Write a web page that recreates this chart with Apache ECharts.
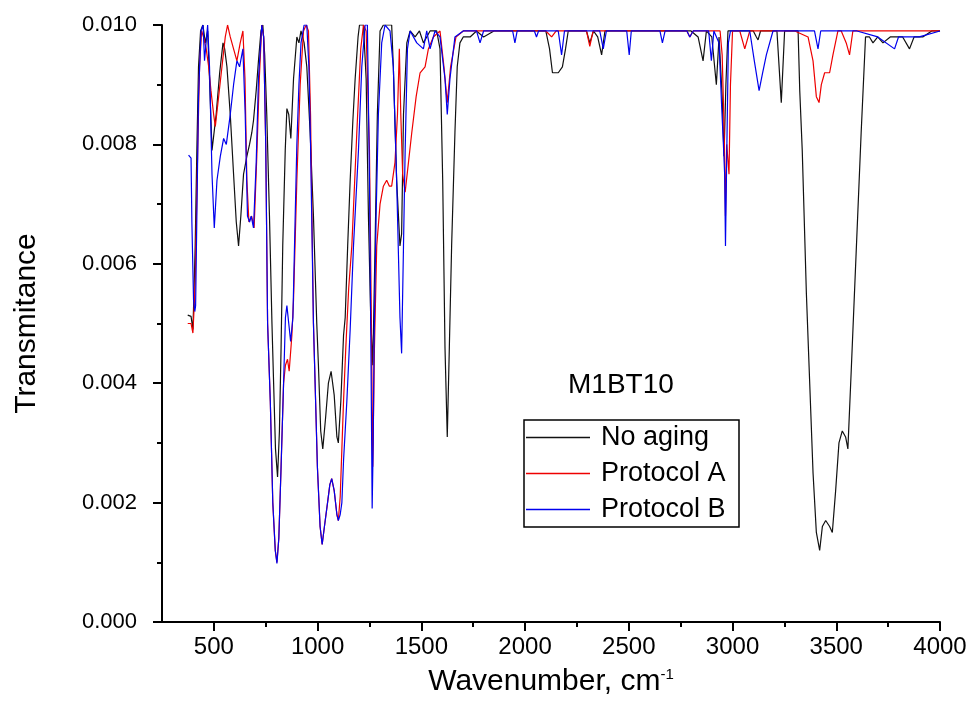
<!DOCTYPE html>
<html>
<head>
<meta charset="utf-8">
<script src="https://cdn.jsdelivr.net/npm/echarts@6/dist/echarts.min.js"></script>
<style>
html,body{margin:0;padding:0;background:#fff;}
#chart{width:971px;height:702px;}
</style>
</head>
<body>
<div id="chart"></div>
<script>
// ---- data (wavenumber, transmittance) ----
const seriesNames = ['No aging', 'Protocol A', 'Protocol B'];

const noAgingWn = [374,390,399,404,410,418,426,436,447,459,470,479,491,499,511,528,544,552,563,579,595,608,619,630,643,659,672,683,691,704,715,727,736,745,755,768,780,788,797,807,816,824,832,844,852,861,871,884,900,910,920,935,948,964,980,996,1004,1015,1025,1038,1052,1065,1080,1093,1100,1112,1125,1133,1145,1157,1170,1181,1195,1202,1221,1234,1245,1256,1266,1277,1288,1301,1317,1357,1365,1381,1397,1405,1414,1430,1446,1470,1491,1510,1526,1542,1574,1590,1603,1614,1625,1635,1646,1662,1673,1686,1702,1735,1766,1800,1850,1900,1950,2000,2050,2100,2118,2132,2160,2180,2195,2208,2296,2312,2330,2350,2369,2385,2500,2600,2700,2800,2834,2858,2874,2900,2922,2935,2950,2959,2968,2978,3050,3100,3115,3123,3135,3214,3235,3251,3292,3316,3324,3336,3356,3388,3404,3420,3433,3449,3468,3481,3497,3513,3529,3545,3556,3572,3596,3620,3641,3660,3677,3700,3725,3760,3790,3820,3853,3875,3917,3960,4000];
const noAgingT = [0.00514,0.00512,0.0049,0.0055,0.0063,0.0079,0.0093,0.0099,0.0100,0.0097,0.0099,0.0091,0.0079,0.0079,0.0085,0.0092,0.0097,0.0096,0.0093,0.0085,0.0075,0.0067,0.0063,0.0068,0.0075,0.0078,0.0080,0.0082,0.0084,0.0089,0.0094,0.0099,0.0100,0.0095,0.0085,0.0068,0.0050,0.0040,0.0029,0.00243,0.0032,0.0046,0.0063,0.0079,0.0086,0.0085,0.0081,0.0091,0.0098,0.0097,0.0099,0.0097,0.0093,0.0082,0.0068,0.0050,0.0043,0.0032,0.0029,0.0034,0.0040,0.0042,0.0038,0.0031,0.0030,0.0037,0.0048,0.0051,0.0063,0.0074,0.0084,0.0091,0.0098,0.0100,0.0100,0.0091,0.0068,0.0051,0.0043,0.0063,0.0085,0.0099,0.0100,0.0100,0.0093,0.0074,0.0063,0.0065,0.0085,0.0097,0.0099,0.0098,0.0099,0.0097,0.0098,0.0099,0.0099,0.0096,0.0074,0.0046,0.0031,0.0046,0.0063,0.0082,0.0093,0.0097,0.0098,0.0098,0.0099,0.0098,0.0099,0.0099,0.0099,0.0099,0.0099,0.0099,0.0096,0.0092,0.0092,0.0093,0.0096,0.0099,0.0099,0.0097,0.0099,0.0098,0.0095,0.0099,0.0099,0.0099,0.0099,0.0099,0.0098,0.0094,0.0099,0.0098,0.0090,0.0098,0.0088,0.0078,0.0090,0.0099,0.0099,0.0099,0.0098,0.00975,0.0099,0.0099,0.0087,0.0099,0.0099,0.0099,0.0089,0.0079,0.0055,0.0025,0.0015,0.0012,0.0016,0.0017,0.0016,0.0015,0.0022,0.0030,0.0032,0.0031,0.0029,0.0042,0.0062,0.0082,0.0098,0.0098,0.0097,0.0098,0.0097,0.0098,0.0098,0.0098,0.0096,0.0098,0.0098,0.0099,0.0099];

const protocolAWn = [374,390,399,404,410,422,431,441,450,463,475,486,499,507,523,539,555,566,579,595,611,627,640,650,659,669,682,694,707,719,731,740,750,759,772,784,796,804,813,824,836,845,855,863,876,884,900,916,932,945,956,966,980,988,999,1012,1022,1033,1048,1059,1068,1080,1093,1100,1109,1117,1125,1136,1150,1165,1189,1208,1221,1234,1250,1259,1266,1274,1285,1301,1317,1333,1346,1357,1373,1385,1394,1401,1410,1422,1438,1454,1475,1494,1518,1534,1558,1590,1609,1625,1641,1667,1702,1800,1900,2000,2100,2128,2150,2296,2312,2328,2500,2700,2780,2794,2810,2940,2950,2960,2966,2972,2983,2990,3000,3035,3059,3083,3200,3300,3364,3388,3404,3417,3428,3444,3468,3484,3508,3524,3548,3564,3580,3612,3700,3800,3900,4000];
const protocolAT = [0.0050,0.0050,0.00484,0.0052,0.0057,0.0079,0.0093,0.0099,0.0098,0.0096,0.0093,0.0089,0.0085,0.0083,0.0088,0.0093,0.0098,0.0100,0.0098,0.0096,0.0094,0.0097,0.0099,0.0091,0.0074,0.0067,0.0068,0.0066,0.0078,0.0091,0.0100,0.0098,0.0080,0.0050,0.0037,0.0020,0.0012,0.0010,0.0014,0.0026,0.0040,0.0043,0.0044,0.0042,0.0048,0.0054,0.0074,0.0090,0.0099,0.0100,0.0099,0.0085,0.0050,0.0040,0.0026,0.0016,0.0013,0.0016,0.0020,0.0023,0.0024,0.0022,0.0018,0.0017,0.0021,0.0029,0.0037,0.0046,0.0056,0.0063,0.0082,0.0096,0.0100,0.0099,0.0079,0.0051,0.0026,0.0046,0.0063,0.0070,0.0073,0.0074,0.0073,0.0073,0.0077,0.0085,0.0096,0.0085,0.0075,0.0072,0.0077,0.0082,0.0088,0.0092,0.0093,0.0096,0.0098,0.0099,0.0093,0.0087,0.0093,0.0098,0.0099,0.0099,0.0099,0.0099,0.0099,0.0098,0.0099,0.0099,0.00964,0.0099,0.0099,0.0099,0.0099,0.0098,0.0099,0.0099,0.0095,0.0082,0.0068,0.0080,0.0075,0.0090,0.0099,0.0099,0.0096,0.0099,0.0099,0.0099,0.0098,0.0094,0.0088,0.0087,0.0090,0.0092,0.0092,0.0095,0.0099,0.0099,0.0097,0.0095,0.0099,0.0099,0.0099,0.0099,0.0099,0.0099];

const protocolBWn = [378,390,394,402,408,412,418,426,438,448,455,470,479,491,502,515,531,547,560,579,595,611,624,640,651,662,672,680,691,704,715,731,740,750,759,772,784,796,804,813,824,836,845,852,861,870,881,890,900,910,920,935,948,958,966,980,988,999,1012,1022,1033,1048,1059,1068,1080,1093,1100,1109,1117,1125,1141,1157,1173,1197,1213,1229,1240,1250,1257,1263,1268,1272,1282,1293,1309,1325,1349,1365,1381,1397,1405,1414,1422,1433,1446,1478,1510,1526,1542,1566,1590,1614,1625,1638,1662,1702,1766,1783,1800,1940,1951,1962,2045,2055,2065,2160,2176,2190,2360,2377,2392,2490,2502,2512,2650,2662,2675,2780,2794,2810,2885,2898,2910,2935,2948,2956,2962,2966,2972,2980,2990,3083,3105,3128,3145,3163,3195,3300,3395,3412,3425,3600,3700,3781,3800,3900,4000];
const protocolBT = [0.00782,0.00777,0.0067,0.0054,0.0052,0.0053,0.0068,0.0088,0.0099,0.0100,0.0094,0.0100,0.0093,0.0075,0.0066,0.0074,0.0078,0.0081,0.0080,0.0085,0.0090,0.0094,0.0093,0.0096,0.0085,0.0068,0.0067,0.0068,0.0066,0.0077,0.0091,0.0100,0.0098,0.0080,0.0050,0.0037,0.0020,0.0012,0.00098,0.0014,0.0026,0.0040,0.0051,0.0053,0.0050,0.0047,0.0051,0.0065,0.0080,0.0090,0.0097,0.0100,0.0100,0.0093,0.0080,0.0050,0.0040,0.0026,0.0016,0.0013,0.0016,0.0020,0.0023,0.0024,0.0022,0.0018,0.0017,0.0018,0.0020,0.0027,0.0037,0.0049,0.0063,0.0079,0.0093,0.0100,0.0100,0.0074,0.0046,0.0019,0.0030,0.0046,0.0068,0.0085,0.0097,0.0100,0.0099,0.0093,0.0074,0.0051,0.0045,0.0063,0.0079,0.0096,0.0099,0.0097,0.0096,0.0099,0.0096,0.0099,0.0098,0.0091,0.0085,0.0091,0.0098,0.0099,0.0099,0.0097,0.0099,0.0099,0.0097,0.0099,0.0099,0.0098,0.0099,0.0099,0.0095,0.0099,0.0099,0.0096,0.0099,0.0099,0.0095,0.0099,0.0099,0.0097,0.0099,0.0099,0.0098,0.0099,0.0099,0.0094,0.0099,0.0097,0.0086,0.0080,0.0075,0.0063,0.0078,0.0097,0.0099,0.0099,0.0094,0.0089,0.0092,0.0095,0.0099,0.0099,0.0099,0.0096,0.0099,0.0099,0.0098,0.0096,0.0098,0.0098,0.0099];

const xMajorTicks = [500,1000,1500,2000,2500,3000,3500,4000];
const xMinorTicks = [750,1250,1750,2250,2750,3250,3750];
const yTickLabels = ['0.000','0.002','0.004','0.006','0.008','0.010'];

const chartTitle = 'M1BT10';
const seriesColors = ['#111111', '#ee0000', '#0000ee'];

// ---- chart ----
const FONT = 'Liberation Sans, Arial, sans-serif';
function zip(xs, ys) { return xs.map((x, i) => [x, ys[i]]); }
const wnLists = [noAgingWn, protocolAWn, protocolBWn];
const tLists = [noAgingT, protocolAT, protocolBT];

const chart = echarts.init(document.getElementById('chart'), null, {renderer: 'canvas'});
chart.setOption({
  animation: false,
  backgroundColor: '#fff',
  title: {
    text: chartTitle, left: 568, top: 371, padding: 0,
    textStyle: {fontSize: 28, fontWeight: 'normal', color: '#000', fontFamily: FONT}
  },
  legend: {
    data: seriesNames.map(n => ({name: n, icon: 'rect'})),
    orient: 'vertical', left: 524, top: 420,
    padding: [4, 2, 3, 2], itemWidth: 64, itemHeight: 1.5, itemGap: 9,
    selectedMode: false,
    textStyle: {fontSize: 27, color: '#000', fontFamily: FONT, padding: [0, 0, 0, 6]}
  },
  graphic: [{
    type: 'rect', z: 100,
    shape: {x: 524, y: 420, width: 215, height: 107},
    style: {fill: 'none', stroke: '#000', lineWidth: 1.5}
  }],
  grid: {left: 162, right: 31, top: 25, bottom: 80},
  xAxis: [{
    type: 'value', min: 250, max: 4000, position: 'bottom',
    name: 'Wavenumber, cm{sup|-1}', nameLocation: 'middle', nameGap: 45,
    nameTextStyle: {fontSize: 30, color: '#000', fontFamily: FONT,
      rich: {sup: {fontSize: 15, verticalAlign: 'top', color: '#000', fontFamily: FONT}}},
    axisLine: {lineStyle: {color: '#000', width: 2}},
    axisTick: {customValues: xMajorTicks, length: 9, lineStyle: {color: '#000', width: 2}},
    axisLabel: {customValues: xMajorTicks, formatter: (v) => String(v), fontSize: 24, color: '#000', fontFamily: FONT, margin: 13},
    splitLine: {show: false}
  }, {
    type: 'value', min: 250, max: 4000, position: 'bottom', gridIndex: 0,
    axisLine: {show: false},
    axisTick: {customValues: xMinorTicks, length: 5, lineStyle: {color: '#000', width: 2}},
    axisLabel: {show: false},
    splitLine: {show: false}
  }],
  yAxis: {
    type: 'value', min: 0, max: 0.010, interval: 0.002,
    name: 'Transmitance', nameLocation: 'middle', nameGap: 120, nameRotate: 90,
    nameTextStyle: {fontSize: 30, color: '#000', fontFamily: FONT},
    axisLine: {lineStyle: {color: '#000', width: 2}},
    axisTick: {length: 9, lineStyle: {color: '#000', width: 2}},
    minorTick: {show: true, splitNumber: 2, length: 5, lineStyle: {color: '#000', width: 2}},
    axisLabel: {formatter: (v) => yTickLabels[Math.round(v / 0.002)], fontSize: 22, color: '#000', fontFamily: FONT, margin: 25},
    splitLine: {show: false}, minorSplitLine: {show: false}
  },
  series: seriesNames.map((name, i) => ({
    name: name, type: 'line', xAxisIndex: 0, symbol: 'none', z: 2 + i,
    color: seriesColors[i],
    lineStyle: {color: seriesColors[i], width: 1.2},
    data: zip(wnLists[i], tLists[i])
  }))
});
</script>
</body>
</html>
